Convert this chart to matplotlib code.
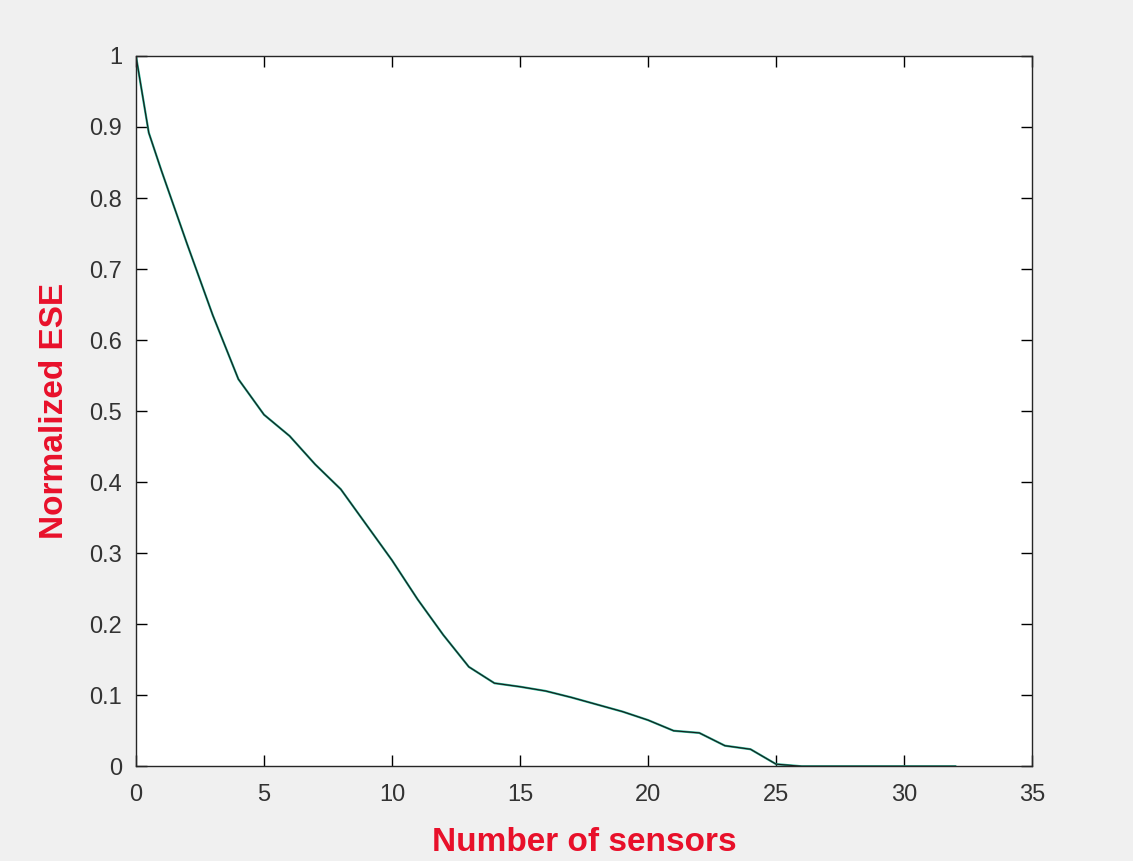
import matplotlib
matplotlib.use("Agg")
import matplotlib.pyplot as plt

sensors = [0, 0.5, 1, 2, 3, 4, 5, 6, 7, 8, 9, 10, 11, 12, 13, 14, 15, 16, 17, 18, 19, 20,
           21, 22, 23, 24, 25, 26, 27, 28, 29, 30, 31, 32]
ese = [1.0, 0.892, 0.838, 0.735, 0.635, 0.545, 0.495, 0.465, 0.425, 0.39, 0.34, 0.29, 0.235,
       0.185, 0.14, 0.117, 0.112, 0.106, 0.097, 0.087, 0.077, 0.065, 0.05, 0.047, 0.029,
       0.024, 0.003, 0.0, 0.0, 0.0, 0.0, 0.0, 0.0, 0.0]
xticks = [0, 5, 10, 15, 20, 25, 30, 35]
yticks = [0, 0.1, 0.2, 0.3, 0.4, 0.5, 0.6, 0.7, 0.8, 0.9, 1.0]
ytick_labels = ["0", "0.1", "0.2", "0.3", "0.4", "0.5", "0.6", "0.7", "0.8", "0.9", "1"]

plt.rcParams['font.family'] = ['Liberation Sans', 'DejaVu Sans']

fig = plt.figure(figsize=(11.33, 8.61), dpi=100, facecolor='#f0f0f0')
ax = fig.add_axes([0.12, 0.110, 0.791, 0.825])
ax.plot(sensors, ese, color='#20b090', lw=1.6, solid_joinstyle='round')
ax.plot(sensors, ese, color='#1a1a1a', lw=0.8)
ax.set_xlim(0, 35)
ax.set_ylim(0, 1)
ax.set_xticks(xticks)
ax.set_xticklabels([str(t) for t in xticks])
ax.set_yticks(yticks)
ax.set_yticklabels(ytick_labels)
ax.tick_params(direction='in', length=8, width=1, top=True, right=True,
               labelsize=17, labelcolor='#333333')
ax.tick_params(axis='x', pad=13)
ax.tick_params(axis='y', pad=10)
for s in ax.spines.values():
    s.set_linewidth(1.0)
    s.set_color('#262626')
ax.set_xlabel('Number of sensors', color='#e8102a', fontsize=24, fontweight='bold', labelpad=15)
ax.set_ylabel('Normalized ESE', color='#e8102a', fontsize=24, fontweight='bold', labelpad=14)
fig.savefig('out.png', dpi=100, facecolor=fig.get_facecolor())
